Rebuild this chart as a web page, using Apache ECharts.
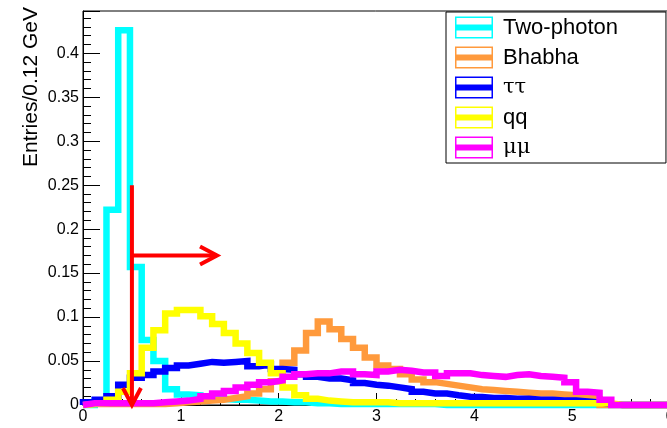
<!DOCTYPE html>
<html>
<head>
<meta charset="utf-8">
<script src="https://cdn.jsdelivr.net/npm/echarts@6/dist/echarts.min.js"></script>
<style>
html, body { margin: 0; padding: 0; background: #fff; }
#chart { width: 667px; height: 428px; }
</style>
</head>
<body>
<div id="chart"></div>
<script>
// 50 bins of 0.12 GeV, 0 - 6 GeV
var binWidth = 0.12;
var names = ['Two-photon', 'Bhabha', 'ττ', 'qq', 'μμ'];
var colors = ['#00ffff', '#ff9a3c', '#0000ff', '#ffff00', '#ff00ff'];

var twoPhoton = [0, 0.005, 0.222, 0.426, 0.157, 0.074, 0.050, 0.018, 0.012, 0.011,
  0.008, 0.007, 0.006, 0.006, 0.005, 0.004, 0.004, 0.003, 0.003, 0.002,
  0.002, 0.001, 0.001, 0.001, 0.001, 0.001, 0.001, 0.001, 0.001, 0.001,
  0, 0, 0, 0, 0, 0, 0, 0, 0, 0,
  0, 0, 0, 0, 0, 0, 0, 0, 0, 0];
var bhabha = [0.001, 0.001, 0.001, 0.001, 0.001, 0.001, 0.001, 0.002, 0.003, 0.004,
  0.005, 0.006, 0.008, 0.010, 0.013, 0.018, 0.027, 0.048, 0.062, 0.082,
  0.095, 0.086, 0.075, 0.065, 0.054, 0.045, 0.041, 0.035, 0.029, 0.026,
  0.024, 0.022, 0.020, 0.018, 0.017, 0.016, 0.015, 0.014, 0.013, 0.013,
  0.012, 0.011, 0.009, 0.007, 0, 0, 0, 0, 0, 0];
var tautau = [0.003, 0.006, 0.010, 0.023, 0.031, 0.034, 0.038, 0.042, 0.045, 0.047,
  0.049, 0.048, 0.049, 0.050, 0.044, 0.046, 0.041, 0.040, 0.035, 0.032,
  0.030, 0.030, 0.028, 0.025, 0.023, 0.022, 0.020, 0.018, 0.015, 0.013,
  0.013, 0.011, 0.0095, 0.009, 0.008, 0.008, 0.007, 0.007, 0.006, 0.006,
  0.005, 0.005, 0.004, 0.003, 0.001, 0, 0, 0, 0, 0];
var qqbar = [0.001, 0.002, 0.006, 0.015, 0.036, 0.065, 0.085, 0.104, 0.108, 0.108,
  0.101, 0.092, 0.082, 0.070, 0.059, 0.048, 0.036, 0.020, 0.011, 0.007,
  0.005, 0.004, 0.003, 0.003, 0.003, 0.003, 0.002, 0.002, 0.002, 0.002,
  0.002, 0.002, 0.002, 0.002, 0.002, 0.002, 0.002, 0.002, 0.002, 0.002,
  0.002, 0.002, 0.002, 0.002, 0.002, 0, 0, 0, 0, 0];
var mumu = [0.002, 0.002, 0.002, 0.002, 0.002, 0.002, 0.003, 0.004, 0.005, 0.007,
  0.010, 0.013, 0.016, 0.020, 0.023, 0.026, 0.028, 0.032, 0.035, 0.036,
  0.036, 0.038, 0.038, 0.035, 0.034, 0.038, 0.040, 0.039, 0.037, 0.037,
  0.033, 0.036, 0.036, 0.034, 0.033, 0.032, 0.034, 0.035, 0.033, 0.032,
  0.031, 0.026, 0.015, 0.014, 0.006, 0, 0, 0, 0, 0];

var xRange = [0, 6], xStep = 1;
var yRange = [0, 0.448], yStep = 0.05;

// cut arrows: [x0, y0, x1, y1], head at (x1, y1)
var cutArrows = [[0.5, 0.25, 0.5, 0], [0.5, 0.17, 1.37, 0.17]];

var hists = [twoPhoton, bhabha, tautau, qqbar, mumu];

function histPoints(vals) {
  var pts = [[0, 0]];
  vals.forEach(function (v, i) { pts.push([+(i * binWidth).toFixed(2), v]); });
  pts.push([+(vals.length * binWidth).toFixed(2), vals[vals.length - 1]]);
  return pts;
}

var font = 'Liberation Sans';
var chart = echarts.init(document.getElementById('chart'));

var series = hists.map(function (h, i) {
  return {
    name: names[i], type: 'line', step: 'end', data: histPoints(h),
    symbol: 'none', showSymbol: false, clip: false, silent: true,
    lineStyle: { color: colors[i], width: 6.5, cap: 'butt', join: 'miter' },
    itemStyle: { color: colors[i] },
    z: 2 + i
  };
});

series.push({
  type: 'custom', data: cutArrows, clip: false, silent: true, z: 10,
  encode: { x: [0, 2], y: [1, 3] },
  renderItem: function (params, api) {
    var p0 = api.coord([api.value(0), api.value(1)]);
    var p1 = api.coord([api.value(2), api.value(3)]);
    var dx = p1[0] - p0[0], dy = p1[1] - p0[1];
    var len = Math.sqrt(dx * dx + dy * dy);
    var ux = dx / len, uy = dy / len;
    var hl = 17, hw = 9;
    var bx = p1[0] - ux * hl, by = p1[1] - uy * hl;
    var st = { stroke: '#ff0000', lineWidth: 4, fill: null };
    return {
      type: 'group',
      children: [
        { type: 'polyline', shape: { points: [p0, p1] }, style: st },
        { type: 'polyline', shape: { points: [[bx - uy * hw, by + ux * hw], p1, [bx + uy * hw, by - ux * hw]] }, style: st }
      ]
    };
  }
});

chart.setOption({
  animation: false,
  backgroundColor: '#fff',
  grid: {
    left: 83, top: 11, right: -3, bottom: 23,
    show: true, borderColor: '#000', borderWidth: 1,
    containLabel: false, outerBoundsMode: 'none'
  },
  legend: {
    orient: 'vertical', left: 446, top: 12,
    padding: [4.5, 48, 4.5, 9],
    itemWidth: 38, itemHeight: 22, itemGap: 8,
    icon: 'path://M0 0H38V22H0Z M1.5 1.5V20.5H36.5V1.5Z M1.5 8H36.5V14H1.5Z',
    itemStyle: { borderWidth: 0 },
    backgroundColor: '#fff', borderColor: '#000', borderWidth: 1, borderRadius: 0,
    selectedMode: false,
    data: names,
    formatter: function (n) { return /[τμ]/.test(n) ? '{g|' + n + '}' : n; },
    textStyle: {
      fontFamily: font, fontSize: 22, color: '#000', padding: [0, 0, 0, 5],
      rich: { g: { fontFamily: 'DejaVu Serif', fontSize: 21, color: '#000' } }
    }
  },
  xAxis: {
    type: 'value', min: xRange[0], max: xRange[1], interval: xStep,
    splitLine: { show: false },
    axisLine: { lineStyle: { color: '#000', width: 1 } },
    axisTick: { inside: true, length: 12, lineStyle: { color: '#000' } },
    minorTick: { show: true, splitNumber: 5, length: 6, lineStyle: { color: '#000' } },
    axisLabel: { fontFamily: font, fontSize: 16, color: '#000', margin: 4 }
  },
  yAxis: {
    type: 'value', min: yRange[0], max: yRange[1], interval: yStep,
    name: 'Entries/0.12 GeV', nameLocation: 'end', nameRotate: 90, nameGap: 4,
    nameMoveOverlap: false,
    nameTextStyle: {
      fontFamily: font, fontSize: 21, color: '#000',
      align: 'right', verticalAlign: 'bottom', padding: [0, 0, 41, 0]
    },
    splitLine: { show: false },
    axisLine: { lineStyle: { color: '#000', width: 1 } },
    axisTick: { inside: true, length: 17, lineStyle: { color: '#000' } },
    minorTick: { show: true, splitNumber: 5, length: 8, lineStyle: { color: '#000' } },
    axisLabel: { fontFamily: font, fontSize: 16, color: '#000', margin: 4, showMaxLabel: false }
  },
  series: series
});
</script>
</body>
</html>
